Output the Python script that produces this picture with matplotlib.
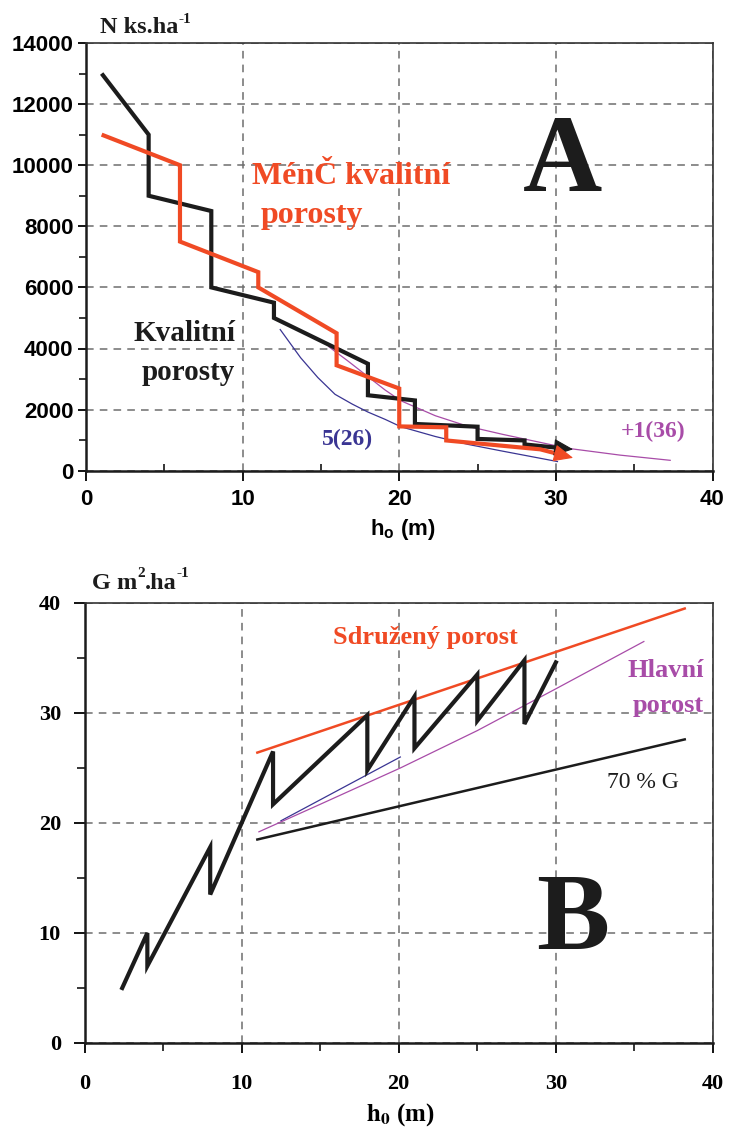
import matplotlib
matplotlib.use("Agg")
import numpy as np
import matplotlib.pyplot as plt
from matplotlib.ticker import MultipleLocator

# --- data ---
# A: number of trees per ha vs top height
kval_x = [1, 4, 4, 8, 8, 12, 12, 18, 18, 21, 21, 25, 25, 28, 28]
kval_y = [13000, 11000, 9000, 8500, 6000, 5500, 5000, 3500, 2470, 2300, 1530, 1440, 1040, 990, 860]
kval_tip = (31.1, 700)

menc_x = [1, 6, 6, 11, 11, 16, 16, 20, 20, 23, 23, 29]
menc_y = [11000, 10000, 7500, 6500, 6000, 4500, 3450, 2690, 1450, 1420, 990, 700]
menc_tip = (31.1, 420)

c526_x = [12.4, 13.7, 14.8, 15.9, 17.0, 18.0, 19.1, 20.1, 22.3, 24.4, 26.6, 30.1]
c526_y = [4620, 3700, 3050, 2500, 2180, 1920, 1680, 1440, 1120, 860, 640, 300]

c136_x = [15.5, 16.7, 18.0, 19.1, 20.1, 22.3, 24.4, 26.6, 28.7, 30.8, 34.1, 37.3]
c136_y = [4060, 3600, 3080, 2640, 2290, 1800, 1450, 1190, 960, 730, 510, 340]

# B: basal area per ha vs top height
zig_x = [2.4, 4, 4, 8, 8, 12, 12, 18, 18, 21, 21, 25, 25, 28, 28, 30]
zig_y = [5, 10, 7, 17.8, 13.5, 26.5, 21.7, 29.8, 24.8, 31.5, 26.8, 33.5, 29.3, 34.8, 29.0, 34.6]

sdruz_x = [11, 38.2]
sdruz_y = [26.4, 39.5]

hlav_x = [11.1, 15, 20.1, 25, 30, 35.6]
hlav_y = [19.2, 21.7, 25.0, 28.4, 32.2, 36.5]

blue_x = [12.5, 20.1]
blue_y = [20.2, 26.0]

g70_x = [11, 38.2]
g70_y = [18.5, 27.6]

xticks = [0, 10, 20, 30, 40]
yticks_a = [0, 2000, 4000, 6000, 8000, 10000, 12000, 14000]
yticks_b = [0, 10, 20, 30, 40]

RED = "#f04a24"
BLK = "#1c1c1c"
BLUE = "#3a3593"
MAG = "#a84ca8"
GRID = "#6e6e6e"
SERIF = "Liberation Serif"
SANS = "Liberation Sans"

plt.rcParams["mathtext.fontset"] = "custom"
plt.rcParams["mathtext.bf"] = "Liberation Sans:bold"
plt.rcParams["mathtext.rm"] = "Liberation Sans"

W, H = 744, 1133
fig = plt.figure(figsize=(W / 100, H / 100), dpi=100)
renderer = fig.canvas.get_renderer()


def fx(px):
    return px / W


def fy(py):
    return 1 - py / H


def seq_text(x_px, base_px, parts, **kw):
    # pieces of a label with superscripts, placed one after another
    x = x_px
    for s, size, rise in parts:
        t = fig.text(fx(x), fy(base_px - rise), s, fontsize=size, va="baseline", **kw)
        x += t.get_window_extent(renderer).width


def style_axes(ax):
    ax.grid(True, which="major", linestyle=(0, (5, 4)), color=GRID, lw=1.1)
    ax.set_axisbelow(True)
    for s in ["left", "bottom"]:
        ax.spines[s].set_linewidth(1.8)
        ax.spines[s].set_color(BLK)
    for s in ["top", "right"]:
        ax.spines[s].set_linewidth(1.2)
        ax.spines[s].set_color("#333333")


def arrow_line(ax, xs, ys, tip, col, head_px=15):
    # thick line ending in a filled arrow head
    p0 = ax.transData.transform((xs[-1], ys[-1]))
    p1 = ax.transData.transform(tip)
    d = (p1 - p0) / np.hypot(*(p1 - p0))
    base = ax.transData.inverted().transform(p1 - d * head_px)
    ax.plot(list(xs) + [base[0]], list(ys) + [base[1]], color=col, lw=3,
            solid_joinstyle="miter", solid_capstyle="butt", zorder=4)
    ax.annotate("", xy=tip, xytext=(xs[-1], ys[-1]),
                arrowprops=dict(arrowstyle="-|>,head_length=0.95,head_width=0.42",
                                lw=0.8, color=col, shrinkA=0, shrinkB=0,
                                mutation_scale=13), zorder=5)


# ---------- A ----------
ax1 = fig.add_axes([fx(86), fy(470.7), fx(712.5) - fx(86), (470.7 - 43) / H])
ax1.set_xlim(0, 40)
ax1.set_ylim(0, 14000)
style_axes(ax1)

ax1.plot(c526_x, c526_y, color=BLUE, lw=0.9, zorder=2)
ax1.plot(c136_x, c136_y, color=MAG, lw=0.9, zorder=2)
arrow_line(ax1, kval_x, kval_y, kval_tip, BLK)
arrow_line(ax1, menc_x, menc_y, menc_tip, RED)

ax1.set_xticks(xticks, labels=[str(v) for v in xticks],
               fontfamily=SANS, fontweight="bold", fontsize=16)
ax1.set_yticks(yticks_a, labels=[str(v) for v in yticks_a],
               fontfamily=SANS, fontweight="bold", fontsize=16)
ax1.xaxis.set_minor_locator(MultipleLocator(5))
ax1.yaxis.set_minor_locator(MultipleLocator(1000))
ax1.tick_params(axis="x", which="major", direction="out", length=7, width=1.3, pad=6)
ax1.tick_params(axis="y", which="major", direction="out", length=6, width=1.3, pad=3)
ax1.tick_params(axis="x", which="minor", direction="in", length=5, width=1.1)
ax1.tick_params(axis="y", which="minor", direction="out", length=5, width=1.1)

fig.text(fx(563), fy(191), "A", fontfamily=SERIF, fontweight="bold", fontsize=79,
         ha="center", va="baseline", color=BLK)
fig.text(fx(252), fy(184), "MénČ kvalitní", fontfamily=SERIF, fontweight="bold",
         fontsize=23, color=RED, va="baseline")
fig.text(fx(261), fy(223), "porosty", fontfamily=SERIF, fontweight="bold",
         fontsize=23, color=RED, va="baseline")
fig.text(fx(235), fy(341), "Kvalitní", fontfamily=SERIF, fontweight="bold",
         fontsize=21, color=BLK, va="baseline", ha="right")
fig.text(fx(235), fy(380), "porosty", fontfamily=SERIF, fontweight="bold",
         fontsize=21, color=BLK, va="baseline", ha="right")
fig.text(fx(322), fy(445), "5(26)", fontfamily=SERIF, fontweight="bold",
         fontsize=17, color=BLUE, va="baseline")
fig.text(fx(621), fy(437), "+1(36)", fontfamily=SERIF, fontweight="bold",
         fontsize=17, color=MAG, va="baseline")

seq_text(100, 33, [("N ks.ha", 17.5, 0), ("-1", 11, 10)],
         fontfamily=SERIF, fontweight="bold", color=BLK)
fig.text(fx(403), fy(535), r"$\mathbf{h_o}$ (m)", fontfamily=SANS, fontweight="bold",
         fontsize=16, ha="center", va="baseline", math_fontfamily="custom")

# ---------- B ----------
ax2 = fig.add_axes([fx(84.5), fy(1043), fx(713) - fx(84.5), (1043 - 603) / H])
ax2.set_xlim(0, 40)
ax2.set_ylim(0, 40)
style_axes(ax2)

ax2.plot(blue_x, blue_y, color=BLUE, lw=0.9, zorder=2)
ax2.plot(hlav_x, hlav_y, color=MAG, lw=0.9, zorder=2)
ax2.plot(g70_x, g70_y, color=BLK, lw=1.8, zorder=2)
ax2.plot(sdruz_x, sdruz_y, color=RED, lw=1.8, zorder=3)
ax2.plot(zig_x, zig_y, color=BLK, lw=3, solid_joinstyle="miter", zorder=4)

ax2.set_xticks(xticks, labels=[str(v) for v in xticks],
               fontfamily=SERIF, fontweight="bold", fontsize=16)
ax2.set_yticks(yticks_b, labels=[str(v) for v in yticks_b],
               fontfamily=SERIF, fontweight="bold", fontsize=16)
ax2.xaxis.set_minor_locator(MultipleLocator(5))
ax2.yaxis.set_minor_locator(MultipleLocator(5))
ax2.tick_params(axis="x", which="major", direction="out", length=7, width=1.3, pad=15)
ax2.tick_params(axis="y", which="major", direction="out", length=8, width=1.3, pad=9)
ax2.tick_params(axis="both", which="minor", direction="out", length=6, width=1.1)

fig.text(fx(573), fy(949), "B", fontfamily=SERIF, fontweight="bold", fontsize=79,
         ha="center", va="baseline", color=BLK)
fig.text(fx(425), fy(644), "Sdružený porost", fontfamily=SERIF, fontweight="bold",
         fontsize=19, color=RED, ha="center", va="baseline")
fig.text(fx(627), fy(677), "Hlavní", fontfamily=SERIF, fontweight="bold",
         fontsize=19, color=MAG, va="baseline")
fig.text(fx(633), fy(712), "porost", fontfamily=SERIF, fontweight="bold",
         fontsize=19, color=MAG, va="baseline")
fig.text(fx(607), fy(788), "70 % G", fontfamily=SERIF, fontsize=17,
         color=BLK, va="baseline")

seq_text(92, 589, [("G m", 17.5, 0), ("2", 11, 12), (".ha", 17.5, 0), ("-1", 11, 12)],
         fontfamily=SERIF, fontweight="bold", color=BLK)
fig.text(fx(400), fy(1121), r"$\mathbf{h_0}$ (m)", fontfamily=SERIF, fontweight="bold",
         fontsize=18, ha="center", va="baseline", math_fontfamily="stix")

fig.savefig("out.png", dpi=100)
